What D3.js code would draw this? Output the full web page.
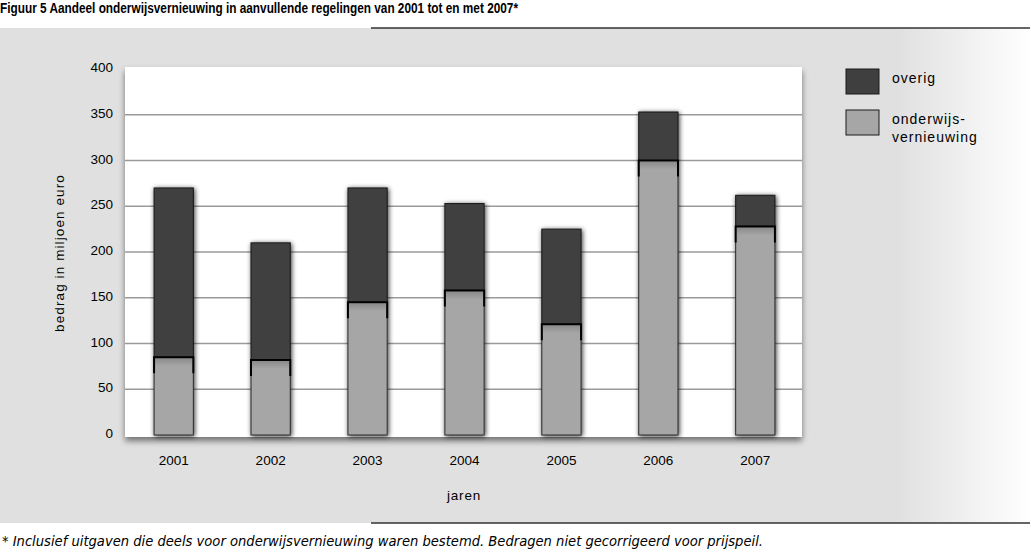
<!DOCTYPE html>
<html><head><meta charset="utf-8">
<script src="https://cdn.jsdelivr.net/npm/d3@7"></script>
<style>body{margin:0;background:#fff;}svg{display:block;}</style>
</head><body>
<script>
const years = ["2001","2002","2003","2004","2005","2006","2007"];
const onderwijs = [85, 82, 145, 158, 121, 300, 228];
const overig = [185, 128, 125, 95, 104, 53, 34];
const yTicks = [0,50,100,150,200,250,300,350,400];

const W = 1031, H = 552;
const svg = d3.select("body").append("svg").attr("width", W).attr("height", H);
const defs = svg.append("defs");
const grad = defs.append("linearGradient").attr("id","bgg").attr("x1","0").attr("x2","1").attr("y1","0").attr("y2","0");
grad.append("stop").attr("offset","0").attr("stop-color","#e0e0e0");
grad.append("stop").attr("offset","0.87").attr("stop-color","#e0e0e0");
grad.append("stop").attr("offset","1").attr("stop-color","#ffffff");
const f = defs.append("filter").attr("id","sh").attr("x","-30%").attr("y","-30%").attr("width","160%").attr("height","160%");
f.append("feGaussianBlur").attr("in","SourceAlpha").attr("stdDeviation",2.5).attr("result","b");
f.append("feOffset").attr("in","b").attr("dx",0.5).attr("dy",0.5).attr("result","o");
f.append("feComponentTransfer").attr("in","o").attr("result","o2").append("feFuncA").attr("type","linear").attr("slope",0.8);
const m = f.append("feMerge"); m.append("feMergeNode").attr("in","o2"); m.append("feMergeNode").attr("in","SourceGraphic");
const f2 = defs.append("filter").attr("id","sh2").attr("x","-10%").attr("y","-10%").attr("width","120%").attr("height","120%");
f2.append("feGaussianBlur").attr("in","SourceAlpha").attr("stdDeviation",3).attr("result","b");
f2.append("feOffset").attr("in","b").attr("dx",0).attr("dy",4).attr("result","o");
f2.append("feComponentTransfer").attr("in","o").attr("result","o2").append("feFuncA").attr("type","linear").attr("slope",0.5);
const m2 = f2.append("feMerge"); m2.append("feMergeNode").attr("in","o2"); m2.append("feMergeNode").attr("in","SourceGraphic");
const lg = defs.append("linearGradient").attr("id","lgt").attr("x1","0").attr("x2","0").attr("y1","0").attr("y2","1");
lg.append("stop").attr("offset","0").attr("stop-color","#8a8a8a");
lg.append("stop").attr("offset","1").attr("stop-color","#a6a6a6");

const font = "Liberation Sans, Arial, sans-serif";
svg.append("text").attr("x",0).attr("y",13).attr("font-family",font).attr("font-weight","bold")
  .attr("font-size",14).attr("textLength",518).attr("lengthAdjust","spacingAndGlyphs")
  .text("Figuur 5 Aandeel onderwijsvernieuwing in aanvullende regelingen van 2001 tot en met 2007*");
svg.append("rect").attr("x",0).attr("y",28).attr("width",W).attr("height",495).attr("fill","url(#bgg)");
svg.append("line").attr("x1",371).attr("x2",1030).attr("y1",28).attr("y2",28).attr("stroke","#333").attr("stroke-width",1.5);
svg.append("line").attr("x1",371).attr("x2",1030).attr("y1",523).attr("y2",523).attr("stroke","#333").attr("stroke-width",1.5);

const plot = {x0:125, x1:802, y0:67, y1:437};
const y = d3.scaleLinear().domain([0,400]).range([435,69]);
const x = d3.scaleBand().domain(years).range([125,804]).paddingInner(0.595).paddingOuter(0.3);

svg.append("rect").attr("x",plot.x0).attr("y",plot.y0).attr("width",plot.x1-plot.x0).attr("height",plot.y1-plot.y0)
  .attr("fill","#fff").attr("filter","url(#sh2)");

svg.append("g").selectAll("line").data(yTicks.filter(d=>d>0 && d<400)).join("line")
  .attr("x1",plot.x0).attr("x2",plot.x1).attr("y1",d=>y(d)).attr("y2",d=>y(d))
  .attr("stroke","#9a9a9a").attr("stroke-width",1.5);

const ya = svg.append("g").attr("transform",`translate(${plot.x0-12},0)`)
  .call(d3.axisLeft(y).tickValues(yTicks).tickSize(0).tickPadding(0));
ya.select(".domain").remove();
ya.selectAll("text").attr("font-family",font).attr("font-size",13.5).attr("fill","#000").attr("dy","0.2em");

const xa = svg.append("g").attr("transform","translate(0,456)")
  .call(d3.axisBottom(x).tickSize(0).tickPadding(0));
xa.select(".domain").remove();
xa.selectAll("text").attr("font-family",font).attr("font-size",13.5).attr("fill","#000").attr("dy","0.7em");

const bars = svg.append("g").selectAll("g").data(years).join("g").attr("filter","url(#sh)");
bars.append("rect").attr("x",d=>x(d)).attr("width",x.bandwidth())
  .attr("y",(d,i)=>y(onderwijs[i]+overig[i])).attr("height",(d,i)=>y(onderwijs[i])-y(onderwijs[i]+overig[i]))
  .attr("fill","#3f3f3f").attr("stroke","#1a1a1a").attr("stroke-width",1);
bars.append("rect").attr("x",d=>x(d)).attr("width",x.bandwidth())
  .attr("y",(d,i)=>y(onderwijs[i])).attr("height",(d,i)=>y(0)-y(onderwijs[i]))
  .attr("fill","#a6a6a6").attr("stroke","#2a2a2a").attr("stroke-width",1);
svg.append("g").selectAll("rect").data(years).join("rect")
  .attr("x",d=>x(d)+1).attr("width",x.bandwidth()-2)
  .attr("y",(d,i)=>y(onderwijs[i])+1).attr("height",8).attr("fill","url(#lgt)");
const marks = svg.append("g");
years.forEach((d,i)=>{
  const yy = y(onderwijs[i]);
  marks.append("path").attr("d",`M${x(d)},${yy+16}V${yy}H${x(d)+x.bandwidth()}V${yy+16}`)
    .attr("fill","none").attr("stroke","#000").attr("stroke-width",2);
});

svg.append("text").attr("transform","translate(64,253) rotate(-90)").attr("text-anchor","middle")
  .attr("font-family",font).attr("font-size",13.5).attr("letter-spacing","1.1").text("bedrag in miljoen euro");
svg.append("text").attr("x",464).attr("y",500).attr("text-anchor","middle")
  .attr("font-family",font).attr("font-size",13.5).attr("letter-spacing","0.8").text("jaren");

const leg = [{c:"#3f3f3f", t:["overig"], y:69},{c:"#a6a6a6", t:["onderwijs-","vernieuwing"], y:110}];
leg.forEach(l=>{
  svg.append("rect").attr("x",846).attr("y",l.y).attr("width",33).attr("height",25).attr("fill",l.c).attr("stroke","#1a1a1a");
  l.t.forEach((t,j)=>{
    svg.append("text").attr("x",892).attr("y",l.y+14+j*18).attr("font-family",font).attr("font-size",14)
      .attr("letter-spacing","1").text(t);
  });
});

svg.append("text").attr("x",2).attr("y",546).attr("font-family","DejaVu Sans Condensed, sans-serif")
  .attr("font-style","italic").attr("font-size",14).attr("textLength",761).attr("lengthAdjust","spacingAndGlyphs")
  .text("* Inclusief uitgaven die deels voor onderwijsvernieuwing waren bestemd. Bedragen niet gecorrigeerd voor prijspeil.");
</script>
</body></html>
